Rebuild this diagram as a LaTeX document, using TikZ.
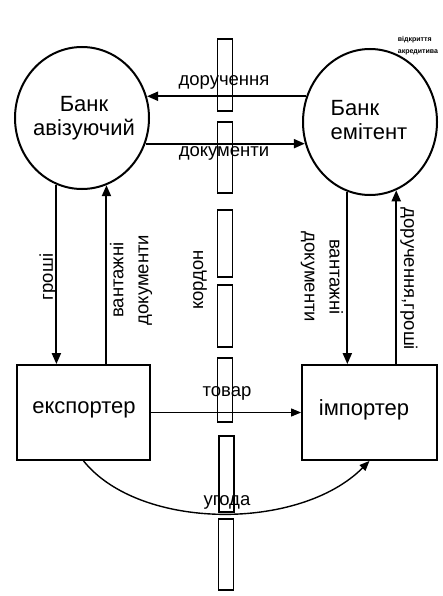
\documentclass[tikz,border=0pt]{standalone}
\usepackage{fontspec}
\setmainfont{Liberation Sans}
\usetikzlibrary{shapes.geometric,arrows.meta}
\begin{document}
\begin{tikzpicture}[x=1pt,y=-1pt,
  bank/.style={ellipse,draw,line width=2pt,minimum width=134pt,minimum height=142pt,inner sep=0pt},
  party/.style={rectangle,draw,line width=1.8pt,minimum height=95pt,inner sep=0pt},
  big/.style={font=\fontsize{22}{24}\selectfont,inner sep=0pt},
  lbl/.style={font=\fontsize{18.5}{25}\selectfont,inner sep=0pt,align=center},
  arr/.style={line width=2pt,-{Triangle[length=11pt,width=9pt]}},
  thinarr/.style={line width=1.1pt,-{Triangle[length=10pt,width=8pt]}},
  border/.style={rectangle,draw,line width=1.7pt,minimum width=15pt,inner sep=0pt}
]
\useasboundingbox (0,0) rectangle (442,596);

% banks
\node[bank] (bA) at (82,118) {};
\node[bank,minimum height=146pt] (bE) at (370,122) {};
\node[big,align=center] (tA) at (84,118) {Банк\\авізуючий};
\node[big,align=left] (tE) at (369,120) {Банк\\емітент};
\node[font=\bfseries\fontsize{7}{12}\selectfont,inner sep=0pt,align=left] (note) at (418,46) {відкриття\\акредитива};

% parties
\node[party,minimum width=133pt] (ex) at (83.5,412.5) {};
\node[big] (tex) at (84,410) {експортер};
\node[party,minimum width=135pt] (im) at (369.5,412.5) {};
\node[big] (tim) at (364,410) {імпортер};

% labels
\node[lbl] (l1) at (224,82) {доручення};
\node[lbl] (l2) at (224,153) {документи};
\node[lbl,rotate=90] (l3) at (200,280) {кордон};
\node[lbl,rotate=90] (l4) at (48,277) {гроші};
\node[lbl,rotate=90] (l5) at (131,280) {вантажні\\документи};
\node[lbl,rotate=-90] (l6) at (322,277) {вантажні\\документи};
\node[lbl,rotate=-90] (l7) at (409,279) {доручення,гроші};
\node[lbl] (l8) at (227,393) {товар};
\node[lbl] (l9) at (227,502) {угода};

% border
\node[border,minimum height=72pt] (r1) at (225,75) {};
\node[border,minimum height=71pt] (r2) at (225,157.5) {};
\node[border,minimum height=67pt] (r3) at (225,243.5) {};
\node[border,minimum height=62pt] (r4) at (225,316) {};
\node[border,minimum height=64pt] (r5) at (225,390) {};
\node[border,minimum height=76pt] (r6) at (226.5,474) {};
\node[border,minimum height=71pt] (r7) at (226,554.5) {};

% connectors between banks
\draw[arr] (bE.158) -- (bE.158 -| bA.18);
\draw[arr] (bA.-22) -- (bA.-22 -| bE.198);

% bank <-> parties
\draw[arr] (bA.249) -- (bA.249 |- ex.north);
\draw[arr] (bA.290 |- ex.north) -- (bA.290);
\draw[arr] (bE.252) -- (bE.252 |- im.north);
\draw[arr] (bE.291 |- im.north) -- (bE.291);

% goods and contract
\draw[thinarr] (ex.east) -- (im.west);
\draw[thinarr,line width=1.4pt] (ex.south) .. controls (140,531) and (300,531) .. (im.south);
\end{tikzpicture}
\end{document}
